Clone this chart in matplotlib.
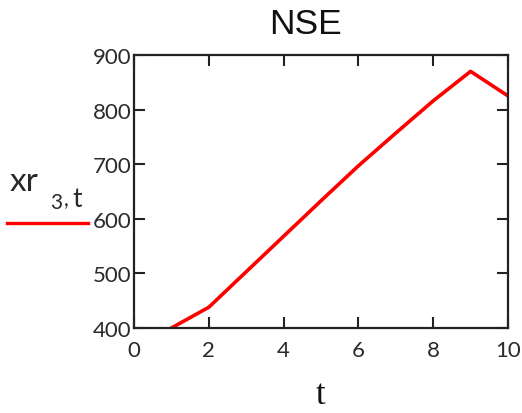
import matplotlib
matplotlib.use("Agg")
import matplotlib.pyplot as plt

# NSE trajectory xr[3, t] over time
t_vals = [1, 2, 3, 4, 5, 6, 7, 8, 9, 10]
xr3 = [400, 438, 503, 568, 633, 697, 757, 816, 870, 825]

x_ticks = [0, 2, 4, 6, 8, 10]
y_ticks = [400, 500, 600, 700, 800, 900]

fig = plt.figure(figsize=(5.22, 4.14), dpi=100)
ax = fig.add_axes([134 / 522, 1 - 329 / 414, (508 - 134) / 522, (329 - 56) / 414])

ax.plot(t_vals, xr3, color="#ff0000", lw=2.6, solid_joinstyle="round", clip_on=True)

ax.set_xlim(0, 10)
ax.set_ylim(400, 900)
ax.set_xticks(x_ticks)
ax.set_yticks(y_ticks)
ax.tick_params(direction="in", length=8, width=1.5, color="#222222",
               top=True, right=True, labelsize=16, labelcolor="#2a2a2a")
ax.tick_params(axis="x", pad=9)
ax.tick_params(axis="y", pad=2)
for lbl in ax.get_xticklabels() + ax.get_yticklabels():
    lbl.set_family("Lato")
for s in ax.spines.values():
    s.set_linewidth(1.6)
    s.set_color("#222222")

fig.text(306 / 522, 1 - 25 / 414, "NSE", ha="center", va="center",
         fontsize=25.5, family="Liberation Sans", color="#111111")
fig.text(320 / 522, 1 - 396 / 414, "t", ha="center", va="center",
         fontsize=25, family="Liberation Serif", color="#111111")

# legend entry on the left: xr with subscript "3 , t"
fig.text(10 / 522, 1 - 191 / 414, "xr", ha="left", va="baseline",
         fontsize=24, family="Lato", color="#2a2a2a")
fig.text(50 / 522, 1 - 209 / 414, "3", ha="left", va="baseline",
         fontsize=15, family="Lato", color="#2a2a2a")
fig.text(64 / 522, 1 - 206 / 414, ",", ha="left", va="baseline",
         fontsize=15, family="Lato", color="#2a2a2a")
fig.text(72 / 522, 1 - 207 / 414, "t", ha="left", va="baseline",
         fontsize=19, family="Lato", color="#2a2a2a")
fig.add_artist(plt.Line2D([7 / 522, 88 / 522], [1 - 224 / 414, 1 - 224 / 414],
                          color="#ff0000", lw=2.4, transform=fig.transFigure))

fig.savefig("out.png", dpi=100)
